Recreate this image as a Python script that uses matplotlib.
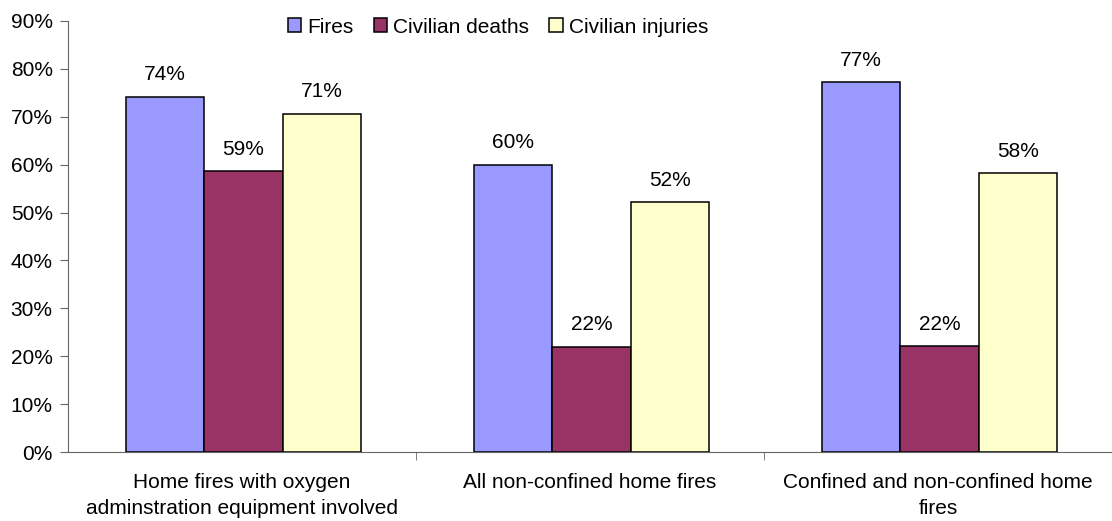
import numpy as np
import matplotlib.pyplot as plt

plt.rcParams['font.family'] = ['Liberation Sans', 'DejaVu Sans']

categories = ['Home fires with oxygen\nadminstration equipment involved',
              'All non-confined home fires',
              'Confined and non-confined home\nfires']
series = ['Fires', 'Civilian deaths', 'Civilian injuries']
fires = [74.2, 60.0, 77.2]
deaths = [58.6, 22.0, 22.1]
injuries = [70.6, 52.1, 58.2]
colors = ['#9999FF', '#993366', '#FFFFCC']

fig = plt.figure(figsize=(11.12, 5.21), dpi=100)
ax = fig.add_axes([68/1112, 1 - 452/521, 1044/1112, 431/521])

x = np.arange(len(categories))
w = 0.225
for i, (name, vals) in enumerate(zip(series, [fires, deaths, injuries])):
    pos = x + (i - 1) * w + 0.004
    bars = ax.bar(pos, vals, w, color=colors[i], edgecolor='black', linewidth=1.1, label=name)
    for b, v in zip(bars, vals):
        ax.annotate(f'{v:.0f}%', (b.get_x() + b.get_width() / 2, v),
                    xytext=(0, 9), textcoords='offset points',
                    ha='center', va='bottom', fontsize=15)

ax.set_xlim(-0.5, 2.5)
ax.set_ylim(0, 90)
ax.set_yticks(np.arange(0, 91, 10))
ax.set_yticklabels([f'{t}%' for t in range(0, 91, 10)], fontsize=15)
ax.set_xticks(x)
ax.set_xticklabels(categories, fontsize=15, linespacing=1.5)
ax.set_xticks([0.5, 1.5], minor=True)
ax.tick_params(axis='x', which='major', length=0, pad=15)
ax.tick_params(axis='x', which='minor', length=6, direction='out', color='#666666')
ax.tick_params(axis='y', length=6, direction='out', color='#666666', pad=5)

for s in ['top', 'right']:
    ax.spines[s].set_visible(False)
for s in ['left', 'bottom']:
    ax.spines[s].set_color('#666666')

ax.legend(loc='center', bbox_to_anchor=(0.412, 0.986), ncol=3, frameon=False,
          fontsize=15, handlelength=0.65, handleheight=0.65, handletextpad=0.3,
          columnspacing=0.95)

fig.savefig('out.png', dpi=100)
